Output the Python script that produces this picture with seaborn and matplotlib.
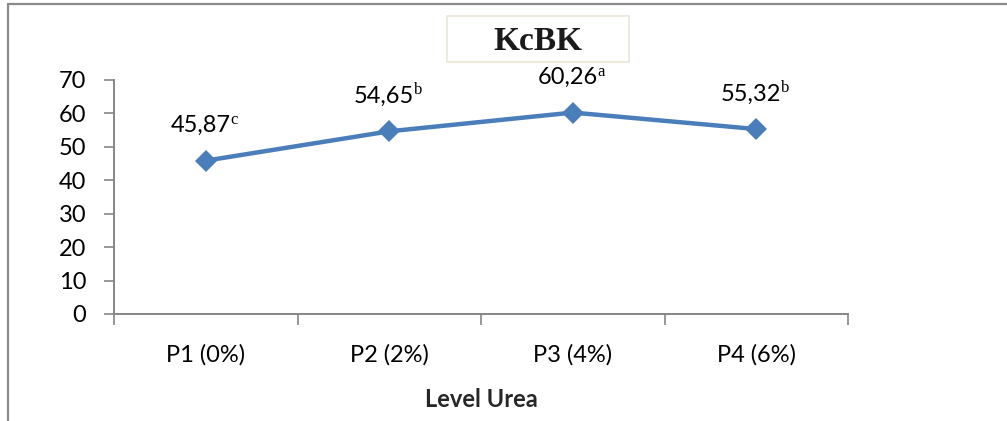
import matplotlib
matplotlib.use("Agg")
import matplotlib.pyplot as plt
from matplotlib.lines import Line2D
from matplotlib.patches import Rectangle
from matplotlib.ticker import FixedLocator
import pandas as pd
import seaborn as sns

# Data
treatments = ["P1 (0%)", "P2 (2%)", "P3 (4%)", "P4 (6%)"]
kcbk = [45.87, 54.65, 60.26, 55.32]
value_labels = ["45,87", "54,65", "60,26", "55,32"]
letters = ["c", "b", "a", "b"]
y_ticks = [0, 10, 20, 30, 40, 50, 60, 70]

sns.set_theme(style="white")
plt.rcParams["font.family"] = ["Lato", "DejaVu Sans"]

df = pd.DataFrame({"Perlakuan": treatments, "KcBK": kcbk})

fig = plt.figure(figsize=(10.07, 4.21), dpi=100)
ax = fig.add_axes([114 / 1007, 107 / 421, 734 / 1007, 234 / 421])

line_blue = "#4a7ebb"
axis_gray = "#868686"

sns.lineplot(data=df, x="Perlakuan", y="KcBK", ax=ax, color=line_blue,
             linewidth=3.2, marker="D", markersize=11, markeredgewidth=0,
             sort=False)

ax.set_xlim(-0.5, len(treatments) - 0.5)
ax.set_ylim(0, 70)
ax.set_yticks(y_ticks)
ax.set_yticklabels([str(v) for v in y_ticks], fontsize=17, color="black")

# category labels centred, tick marks on category boundaries
ax.set_xticks(range(len(treatments)))
ax.set_xticklabels(treatments, fontsize=17, color="black")
ax.xaxis.set_minor_locator(FixedLocator([i - 0.5 for i in range(len(treatments) + 1)]))
ax.tick_params(axis="x", which="major", length=0, pad=22)
ax.tick_params(axis="x", which="minor", length=8, width=1.2, color=axis_gray,
               direction="out", bottom=True)
ax.tick_params(axis="y", which="major", length=7, width=1.2, color=axis_gray,
               direction="out", left=True, pad=13)

for side in ("top", "right"):
    ax.spines[side].set_visible(False)
for side in ("left", "bottom"):
    ax.spines[side].set_color(axis_gray)
    ax.spines[side].set_linewidth(1.4)

ax.set_ylabel("")
ax.set_xlabel("Level Urea", fontsize=17, fontweight="bold", labelpad=16)

# value labels with significance letters
for i, (v, txt, sup) in enumerate(zip(kcbk, value_labels, letters)):
    ax.annotate(txt, xy=(i, v), xytext=(25, 35), textcoords="offset pixels",
                ha="right", va="center", fontsize=17, color="black")
    ax.annotate(sup, xy=(i, v), xytext=(25, 41), textcoords="offset pixels",
                ha="left", va="center", fontsize=12, color="black",
                family=["Liberation Serif", "DejaVu Serif"])

# chart title box
fig.patches.append(Rectangle((447 / 1007, 1 - 62 / 421), 182 / 1007, 46 / 421,
                             transform=fig.transFigure, facecolor="white",
                             edgecolor="#ebe7d8", linewidth=1.2))
fig.text(538 / 1007, 1 - 41 / 421, "KcBK", ha="center", va="center",
         fontsize=24, fontweight="bold",
         family=["Liberation Serif", "DejaVu Serif"], color="#1a1a1a")

# outer frame lines
frame_gray = "#8a8a8a"
fig.add_artist(Line2D([7.5 / 1007, 1.0], [1 - 3.5 / 421, 1 - 3.5 / 421],
                      transform=fig.transFigure, color=frame_gray, linewidth=1.6))
fig.add_artist(Line2D([7.5 / 1007, 7.5 / 1007], [0, 1 - 3.5 / 421],
                      transform=fig.transFigure, color=frame_gray, linewidth=1.6))

fig.savefig("out.png", dpi=100, facecolor="white")
